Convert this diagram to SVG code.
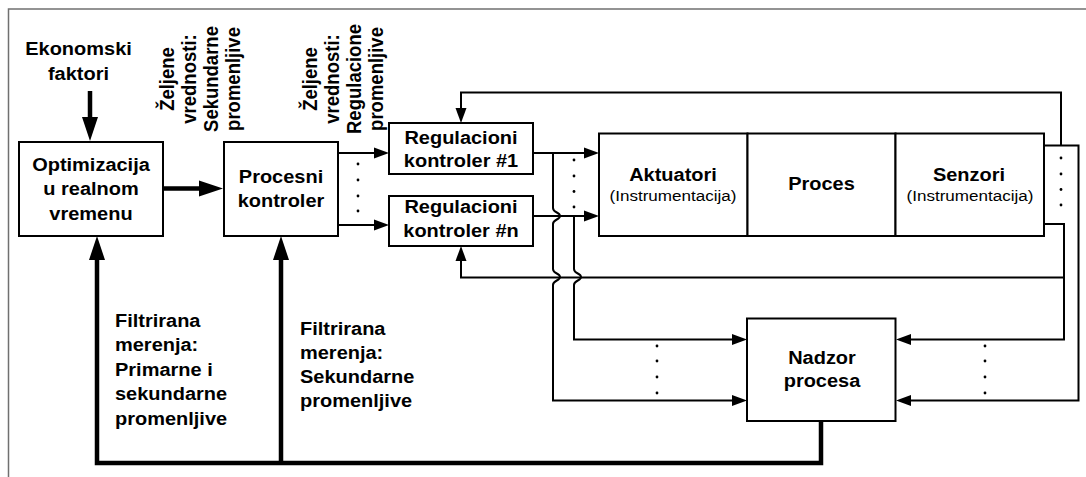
<svg xmlns="http://www.w3.org/2000/svg" width="1086" height="477" viewBox="0 0 1086 477">
<style>
.box{fill:#fff;stroke:#000;stroke-width:2}
.ln{fill:none;stroke:#000;stroke-width:2;stroke-linejoin:miter}
.thk{fill:none;stroke:#000;stroke-width:4.5;stroke-linejoin:miter}
.b{font-family:"Liberation Sans",Arial,sans-serif;font-weight:bold;font-size:18.5px;fill:#000}
.r{font-family:"Liberation Sans",Arial,sans-serif;font-size:15.5px;fill:#000}
.dot{fill:#000}
.frame{fill:none;stroke:#707070;stroke-width:1.5}
</style>
<defs>
<marker id="at" markerUnits="userSpaceOnUse" markerWidth="16" markerHeight="12" refX="9" refY="5.5" orient="auto" viewBox="0 0 16 12" overflow="visible">
<path d="M0,0 L15,5.5 L0,11 z" fill="#000"/>
</marker>
<marker id="ak" markerUnits="userSpaceOnUse" markerWidth="25" markerHeight="18" refX="14" refY="8" orient="auto" viewBox="0 0 25 18" overflow="visible">
<path d="M0,0 L24,8 L0,16 z" fill="#000"/>
</marker>
</defs>
<rect width="1086" height="477" fill="#fff"/>
<path class="frame" d="M8.5,477 V9 H1086"/>

<g id="connectors">
<path class="thk" d="M90,91 V131" marker-end="url(#ak)"/>
<path class="thk" d="M163,188.5 H213" stroke-linecap="round" marker-end="url(#ak)"/>
<path class="thk" d="M821,421 V463 H97 V246" marker-end="url(#ak)"/>
<path class="thk" d="M281,463 V246" marker-end="url(#ak)"/>
<path class="ln" d="M338,153 H383" marker-end="url(#at)"/>
<path class="ln" d="M338,225 H383" marker-end="url(#at)"/>
<path class="ln" d="M533,153 H593" marker-end="url(#at)"/>
<path class="ln" d="M533,216 H593" marker-end="url(#at)"/>
<path class="ln" d="M553,153 V208 C553,213 560,212 560,216 C560,220 553,219 553,224 V269 C553,274 560,273 560,277 C560,281 553,280 553,285 V400.5 H741" marker-end="url(#at)"/>
<path class="ln" d="M574,216 V269 C574,274 581,273 581,277 C581,281 574,280 574,285 V339.5 H741" marker-end="url(#at)"/>
<path class="ln" d="M1044,145.5 H1078.5 V400.5 H902" marker-end="url(#at)"/>
<path class="ln" d="M1044,224 H1064 V339.5 H902" marker-end="url(#at)"/>
<path class="ln" d="M1061,145.5 V92.5 H461 V117" marker-end="url(#at)"/>
<path class="ln" d="M1064,277.5 H461 V252" marker-end="url(#at)"/>
<g class="dot">
<circle cx="358" cy="164" r="1.4"/><circle cx="358" cy="180" r="1.4"/><circle cx="358" cy="196" r="1.4"/><circle cx="358" cy="211" r="1.4"/>
<circle cx="574" cy="160" r="1.4"/><circle cx="574" cy="176" r="1.4"/><circle cx="574" cy="191.5" r="1.4"/><circle cx="574" cy="207" r="1.4"/>
<circle cx="1061" cy="158" r="1.4"/><circle cx="1061" cy="174" r="1.4"/><circle cx="1061" cy="189.5" r="1.4"/><circle cx="1061" cy="205" r="1.4"/>
<circle cx="657" cy="346" r="1.4"/><circle cx="657" cy="361" r="1.4"/><circle cx="657" cy="377" r="1.4"/><circle cx="657" cy="393" r="1.4"/>
<circle cx="985" cy="346" r="1.4"/><circle cx="985" cy="361" r="1.4"/><circle cx="985" cy="377" r="1.4"/><circle cx="985" cy="393" r="1.4"/>
</g>
</g>

<g id="ekonomski">
<text class="b" text-anchor="middle" transform="translate(78.5 0) scale(1.08 1)"><tspan x="0" y="55">Ekonomski</tspan><tspan x="0" y="80">faktori</tspan></text>
</g>

<g id="optimizacija">
<rect class="box" x="19" y="142" width="144" height="94"/>
<text class="b" text-anchor="middle" transform="translate(91 0) scale(1.08 1)"><tspan x="0" y="171">Optimizacija</tspan><tspan x="0" y="195.5">u realnom</tspan><tspan x="0" y="220">vremenu</tspan></text>
</g>

<g id="procesni">
<rect class="box" x="224" y="142" width="114" height="94"/>
<text class="b" text-anchor="middle" transform="translate(281 0) scale(1.08 1)"><tspan x="0" y="183">Procesni</tspan><tspan x="0" y="207">kontroler</tspan></text>
</g>

<g id="label-sekundarne">
<text class="b" text-anchor="middle" transform="translate(174 79) scale(1.08 1) rotate(-90)">Željene</text>
<text class="b" text-anchor="middle" transform="translate(195.5 79) scale(1.08 1) rotate(-90)">vrednosti:</text>
<text class="b" text-anchor="middle" transform="translate(217.5 79) scale(1.08 1) rotate(-90)">Sekundarne</text>
<text class="b" text-anchor="middle" transform="translate(239.5 79) scale(1.08 1) rotate(-90)">promenljive</text>
</g>

<g id="label-regulacione">
<text class="b" text-anchor="middle" transform="translate(317 79) scale(1.08 1) rotate(-90)">Željene</text>
<text class="b" text-anchor="middle" transform="translate(338.5 79) scale(1.08 1) rotate(-90)">vrednosti:</text>
<text class="b" text-anchor="middle" transform="translate(360.5 79) scale(1.08 1) rotate(-90)">Regulacione</text>
<text class="b" text-anchor="middle" transform="translate(382.5 79) scale(1.08 1) rotate(-90)">promenljive</text>
</g>

<g id="reg1">
<rect class="box" x="389" y="123" width="144" height="51"/>
<text class="b" text-anchor="middle" transform="translate(461 0) scale(1.08 1)"><tspan x="0" y="144">Regulacioni</tspan><tspan x="0" y="167">kontroler #1</tspan></text>
</g>

<g id="regn">
<rect class="box" x="389" y="196" width="144" height="50"/>
<text class="b" text-anchor="middle" transform="translate(461 0) scale(1.08 1)"><tspan x="0" y="213">Regulacioni</tspan><tspan x="0" y="237">kontroler #n</tspan></text>
</g>

<g id="aktuatori">
<rect class="box" x="599" y="133.5" width="148.5" height="102.5"/>
<text class="b" text-anchor="middle" transform="translate(673 0) scale(1.08 1)"><tspan x="0" y="181">Aktuatori</tspan></text>
<text class="r" text-anchor="middle" transform="translate(673 0) scale(1.1 1)"><tspan x="0" y="201.5">(Instrumentacija)</tspan></text>
</g>

<g id="proces">
<rect class="box" x="747.5" y="133.5" width="148" height="102.5"/>
<text class="b" text-anchor="middle" transform="translate(821.5 0) scale(1.08 1)"><tspan x="0" y="190.5">Proces</tspan></text>
</g>

<g id="senzori">
<rect class="box" x="895.5" y="133.5" width="148.5" height="102.5"/>
<text class="b" text-anchor="middle" transform="translate(969 0) scale(1.08 1)"><tspan x="0" y="181">Senzori</tspan></text>
<text class="r" text-anchor="middle" transform="translate(970 0) scale(1.1 1)"><tspan x="0" y="201.5">(Instrumentacija)</tspan></text>
</g>

<g id="nadzor">
<rect class="box" x="747" y="318.5" width="148.5" height="102.5"/>
<text class="b" text-anchor="middle" transform="translate(822 0) scale(1.08 1)"><tspan x="0" y="364">Nadzor</tspan><tspan x="0" y="387.5">procesa</tspan></text>
</g>

<g id="label-primarne">
<text class="b" transform="translate(115 0) scale(1.08 1)"><tspan x="0" y="327">Filtrirana</tspan><tspan x="0" y="351.5">merenja:</tspan><tspan x="0" y="376">Primarne i</tspan><tspan x="0" y="400.5">sekundarne</tspan><tspan x="0" y="425">promenljive</tspan></text>
</g>

<g id="label-sekundarne-merenja">
<text class="b" transform="translate(300 0) scale(1.08 1)"><tspan x="0" y="335.5">Filtrirana</tspan><tspan x="0" y="359.5">merenja:</tspan><tspan x="0" y="383.5">Sekundarne</tspan><tspan x="0" y="407.5">promenljive</tspan></text>
</g>
</svg>
